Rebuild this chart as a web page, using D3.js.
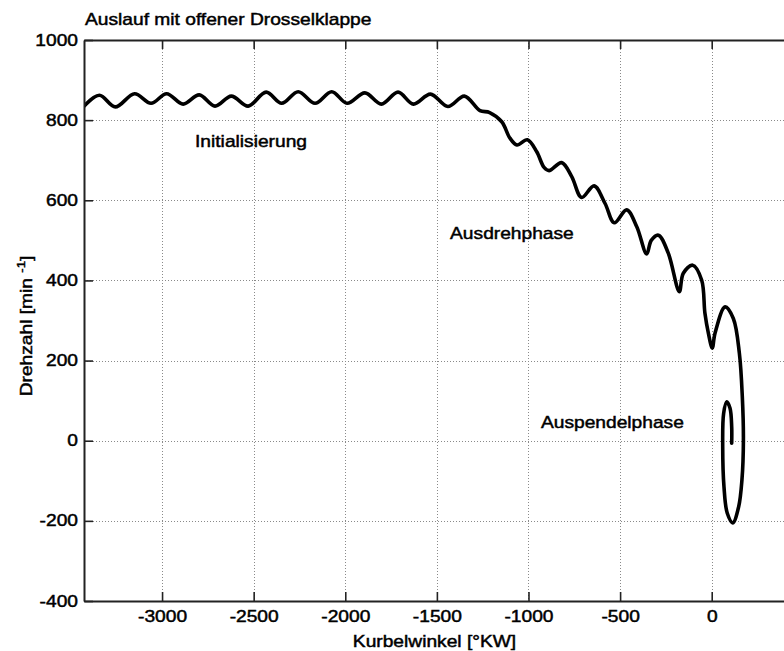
<!DOCTYPE html>
<html>
<head>
<meta charset="utf-8">
<script src="https://cdn.jsdelivr.net/npm/d3@7"></script>
<style>
  html, body { margin: 0; padding: 0; background: #fff; }
  svg { display: block; }
</style>
</head>
<body>
<svg id="chart" width="784" height="651"></svg>
<script>
// Engine run-down with open throttle: crank speed over crank angle
const crankAngle = [
  -3430, -3342, -3255, -3150, -3060, -2975, -2885, -2797, -2711, -2622,
  -2530, -2432, -2347, -2257, -2165, -2074, -1990, -1893, -1803, -1712,
  -1628, -1535, -1440, -1350, -1265, -1212, -1146, -1101, -1063, -1006,
  -955, -915, -888, -819, -764, -710, -642, -582, -532, -464,
  -409, -355, -330, -291, -237, -177, -155, -104, -55, -37,
  -18, 3, 18, 73, 118, 151, 167, 173, 165, 147,
  115, 85, 67, 60, 65, 82, 100, 109, 109
];
const engineSpeed = [
  833, 862, 833, 866, 842, 866, 840, 863, 835, 860,
  835, 870, 842, 871, 842, 871, 842, 868, 840, 870,
  840, 865, 834, 860, 824, 819, 796, 755, 738, 751,
  721, 682, 674, 694, 659, 607, 636, 592, 544, 576,
  534, 466, 500, 513, 468, 372, 418, 438, 401, 318,
  268, 231, 268, 334, 305, 218, 110, 2, -98, -165,
  -205, -181, -115, -15, 68, 97, 81, 35, -6
];

const xTicks = [-3000, -2500, -2000, -1500, -1000, -500, 0];
const yTicks = [-400, -200, 0, 200, 400, 600, 800, 1000];

const phaseLabels = ["Initialisierung", "Ausdrehphase", "Auspendelphase"];
const phaseAnchors = [[-2820, 733], [-1428, 503], [-932, 32]];

const titleText = "Auslauf mit offener Drosselklappe";
const xLabelText = "Kurbelwinkel [°KW]";

const FONT = "'Liberation Sans', Arial, sans-serif";
const FS = 16;
const SX = 1.2; // horizontal glyph stretch
const TEXT_STROKE = 0.45;

const svg = d3.select("#chart");
svg.append("rect").attr("width", 784).attr("height", 651).attr("fill", "#fff");

const plotL = 84, plotR = 785, plotT = 40, plotB = 601;
const x = d3.scaleLinear().domain([-3426, 400]).range([plotL, plotR]);
const y = d3.scaleLinear().domain([-400, 1000]).range([plotB, plotT]);

// dotted grid
const grid = svg.append("g").attr("stroke", "#8a8a8a").attr("stroke-width", 1)
  .attr("stroke-dasharray", "1,2");
grid.selectAll("line.vx").data(xTicks).join("line")
  .attr("x1", d => Math.round(x(d)) + 0.5).attr("x2", d => Math.round(x(d)) + 0.5)
  .attr("y1", plotT).attr("y2", plotB);
grid.selectAll("line.hy").data(yTicks.filter(d => d > -400 && d < 1000)).join("line")
  .attr("y1", d => Math.round(y(d)) + 0.5).attr("y2", d => Math.round(y(d)) + 0.5)
  .attr("x1", plotL).attr("x2", plotR);

// curve
svg.append("clipPath").attr("id", "plotClip").append("rect")
  .attr("x", plotL).attr("y", plotT).attr("width", plotR - plotL).attr("height", plotB - plotT);

const pts = crankAngle.map((a, i) => [a, engineSpeed[i]]);
const line = d3.line().x(d => x(d[0])).y(d => y(d[1]))
  .curve(d3.curveCatmullRom.alpha(0.5));
svg.append("path").datum(pts)
  .attr("clip-path", "url(#plotClip)")
  .attr("fill", "none").attr("stroke", "#000").attr("stroke-width", 3.6)
  .attr("stroke-linejoin", "round").attr("stroke-linecap", "round")
  .attr("d", line);

// axes with inward ticks
const fmt = d => String(d);
function styleText(sel) {
  sel.attr("font-family", FONT).attr("font-size", FS).attr("fill", "#000")
    .attr("stroke", "#000").attr("stroke-width", TEXT_STROKE);
}
function styleAxis(g) {
  g.select(".domain").attr("stroke", "#222").attr("stroke-width", 2);
  g.selectAll(".tick line").attr("stroke", "#222").attr("stroke-width", 1.6);
  g.selectAll("text").call(styleText).attr("transform", `scale(${SX},1)`);
}
svg.append("g").attr("transform", `translate(0,${plotB})`)
  .call(d3.axisBottom(x).tickValues(xTicks).tickSizeInner(-9).tickSizeOuter(0)
    .tickPadding(10).tickFormat(fmt))
  .call(styleAxis);
svg.append("g").attr("transform", `translate(0,${plotT})`)
  .call(d3.axisTop(x).tickValues(xTicks).tickSizeInner(-9).tickSizeOuter(0)
    .tickFormat(() => ""))
  .call(styleAxis);
svg.append("g").attr("transform", `translate(${plotL},0)`)
  .call(d3.axisLeft(y).tickValues(yTicks).tickSizeInner(-9).tickSizeOuter(0)
    .tickPadding(5).tickFormat(fmt))
  .call(styleAxis);

// text helper with horizontal stretch
function label(px, py, txt, anchor) {
  return svg.append("text")
    .attr("transform", `translate(${px},${py}) scale(${SX},1)`)
    .call(styleText)
    .attr("text-anchor", anchor || "start").text(txt);
}

label(85, 25, titleText);
label((plotL + plotR) / 2, 647, xLabelText, "middle");

phaseLabels.forEach((t, i) => label(x(phaseAnchors[i][0]), y(phaseAnchors[i][1]), t));

// y axis title, rotated
const yl = svg.append("text")
  .attr("transform", `translate(32,326) rotate(-90) scale(${SX},1)`)
  .call(styleText)
  .attr("text-anchor", "middle");
yl.append("tspan").text("Drehzahl [min ");
yl.append("tspan").attr("font-size", 11).attr("dy", -7).text("-1");
yl.append("tspan").attr("dy", 7).text("]");
</script>
</body>
</html>
